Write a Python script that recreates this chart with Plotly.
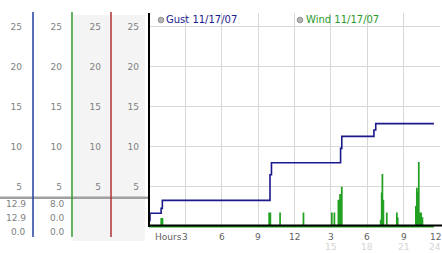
import plotly.graph_objects as go

W, H = 442, 253
FONT = "DejaVu Sans"

# ---- data ----
gust_hours = [0.0, 0.08, 1.0, 1.1, 9.98, 10.1, 15.8, 15.9, 18.55, 18.7, 23.5]
gust_mph = [0.8, 1.7, 2.3, 3.3, 6.5, 8.0, 9.8, 11.3, 12.1, 12.9, 12.9]

wind_hours = [1.0, 1.1, 9.9, 10.0, 10.8, 12.73, 15.07, 15.28, 15.61, 15.75, 15.89,
              19.1, 19.18, 19.24, 19.32, 19.6, 20.43, 20.5,
              22.0, 22.08, 22.16, 22.24, 22.35, 22.43, 22.54]
wind_mph = [1.0, 1.0, 1.7, 1.7, 1.7, 1.7, 1.7, 1.7, 3.3, 4.0, 4.9,
            0.8, 4.2, 6.5, 3.3, 1.7, 1.7, 1.1,
            2.5, 4.8, 4.2, 8.0, 1.7, 1.7, 1.1]
wind_end = 23.5

y_ticks = [5, 10, 15, 20, 25]
x_ticks = [3, 6, 9, 12, 15, 18, 21, 24]
x_labels = ["3", "6", "9", "12", "3", "6", "9", "12"]
x_labels2 = ["", "", "", "", "15", "18", "21", "24"]

gust_stats = ["12.9", "12.9", "0.0"]
wind_stats = ["8.0", "0.0", "0.0"]
legend_names = ["Gust 11/17/07", "Wind 11/17/07"]

GUST_C = "#1a1a8c"
WIND_C = "#22a022"

def PX(p):
    return p / W

def PY(p):
    return 1 - p / H

# build wind spikes (vertical strokes back to zero)
wx, wy = [0.0], [0.0]
for t, v in zip(wind_hours, wind_mph):
    wx += [t, t, t + 0.02]
    wy += [0.0, v, 0.0]
wx.append(wind_end)
wy.append(0.0)

fig = go.Figure()
fig.add_trace(go.Scatter(x=wx, y=wy, mode="lines", line=dict(color=WIND_C, width=1.5),
                         line_shape="hv", showlegend=False, hoverinfo="skip"))
fig.add_trace(go.Scatter(x=gust_hours, y=gust_mph, mode="lines",
                         line=dict(color=GUST_C, width=1.6), line_shape="hv",
                         showlegend=False, hoverinfo="skip"))

# small tick icons
fig.add_trace(go.Scatter(x=[-0.25] * len(y_ticks), y=y_ticks, mode="markers",
                         marker=dict(symbol="x", size=4, color="#b0b0b0", line=dict(width=0)),
                         cliponaxis=False, showlegend=False, hoverinfo="skip"))
fig.add_trace(go.Scatter(x=x_ticks, y=[-0.46] * len(x_ticks), mode="markers",
                         marker=dict(symbol="x", size=4, color="#b0b0b0", line=dict(width=0)),
                         cliponaxis=False, showlegend=False, hoverinfo="skip"))

for ax in ["y2", "y3", "y4"]:
    fig.add_trace(go.Scatter(x=[None], y=[None], yaxis=ax, showlegend=False, hoverinfo="skip"))

yrange = [-0.15, 26.725]
ydom = [PY(228), PY(13)]
common_y = dict(range=yrange, tickvals=y_ticks, ticks="", showline=False, zeroline=False,
                tickfont=dict(family=FONT, size=9, color="#808080"), fixedrange=True)

fig.update_layout(
    width=W, height=H, margin=dict(l=0, r=0, t=0, b=0, pad=0),
    paper_bgcolor="white", plot_bgcolor="white",
    font=dict(family=FONT, size=9),
    xaxis=dict(domain=[PX(149), PX(440)], range=[0, 24], tickvals=x_ticks,
               showticklabels=False,
               showgrid=True, gridcolor="#d8d8d8", gridwidth=1, zeroline=False, showline=False,
               ticks=""),
    yaxis=dict(domain=ydom, showgrid=True, gridcolor="#d8d8d8", gridwidth=1,
               ticklabelstandoff=9, **common_y),
    yaxis2=dict(overlaying="y", anchor="free", position=PX(33), side="left",
                showgrid=False, ticklabelstandoff=11, **common_y),
    yaxis3=dict(overlaying="y", anchor="free", position=PX(72), side="left",
                showgrid=False, ticklabelstandoff=10, **common_y),
    yaxis4=dict(overlaying="y", anchor="free", position=PX(111), side="left",
                showgrid=False, ticklabelstandoff=10, **common_y),
)

shapes = []
shapes.append(dict(type="rect", xref="paper", yref="paper", x0=PX(73), x1=PX(145),
                   y0=PY(241), y1=PY(15), fillcolor="#f4f4f4", line=dict(width=0), layer="below"))
shapes.append(dict(type="line", xref="paper", yref="paper", x0=0, x1=PX(149),
                   y0=PY(197.8), y1=PY(197.8), line=dict(color="#a0a0a0", width=2.5)))
for xp, c in [(33, "#2040a0"), (72, "#2e9e2e"), (111, "#b03030")]:
    shapes.append(dict(type="line", xref="paper", yref="paper", x0=PX(xp), x1=PX(xp),
                       y0=PY(237), y1=PY(12), line=dict(color=c, width=1.5)))
shapes.append(dict(type="line", xref="paper", yref="paper", x0=PX(149), x1=PX(149),
                   y0=PY(227), y1=PY(13), line=dict(color="black", width=2)))
shapes.append(dict(type="line", xref="paper", yref="paper", x0=PX(149), x1=1,
                   y0=PY(225.4), y1=PY(225.4), line=dict(color="black", width=2)))
for xp in [161, 300]:
    shapes.append(dict(type="circle", xref="paper", yref="paper",
                       x0=PX(xp - 2.8), x1=PX(xp + 2.8), y0=PY(20 + 2.8), y1=PY(20 - 2.8),
                       fillcolor="#b4b4b4", line=dict(color="#909090", width=1)))
fig.update_layout(shapes=shapes)

ann = []
ann.append(dict(text=legend_names[0], xref="paper", yref="paper", x=PX(164), y=PY(20),
                xanchor="left", yanchor="middle", showarrow=False,
                font=dict(family=FONT, size=10, color=GUST_C)))
ann.append(dict(text=legend_names[1], xref="paper", yref="paper", x=PX(304), y=PY(20),
                xanchor="left", yanchor="middle", showarrow=False,
                font=dict(family=FONT, size=10, color="#2a9a2a")))
ann.append(dict(text="Hours", xref="paper", yref="paper", x=PX(153), y=PY(236.5),
                xanchor="left", yanchor="middle", showarrow=False,
                font=dict(family=FONT, size=9, color="#606060")))
for i, (xv, lab, lab2) in enumerate(zip(x_ticks, x_labels, x_labels2)):
    last = i == len(x_ticks) - 1
    xa = "right" if last else "center"
    xpos = 1.0 if last else xv
    xr = "paper" if last else "x"
    ann.append(dict(text=lab, xref=xr, yref="paper", x=xpos, y=PY(236.5), xanchor=xa,
                    yanchor="middle", showarrow=False, borderpad=0,
                    font=dict(family=FONT, size=9, color="#606060")))
    if lab2:
        ann.append(dict(text=lab2, xref=xr, yref="paper", x=xpos, y=PY(247), xanchor=xa,
                        yanchor="middle", showarrow=False, borderpad=0,
                        font=dict(family=FONT, size=9, color="#d4d4d4")))
rows = [204, 218, 232]
for col_right, stats in [(27, gust_stats), (66, wind_stats)]:
    for r, s in zip(rows, stats):
        ann.append(dict(text=s, xref="paper", yref="paper", x=PX(col_right), y=PY(r),
                        xanchor="right", yanchor="middle", showarrow=False, borderpad=0,
                        font=dict(family=FONT, size=9, color="#808080")))
fig.update_layout(annotations=ann)

fig.write_html("out.html")
